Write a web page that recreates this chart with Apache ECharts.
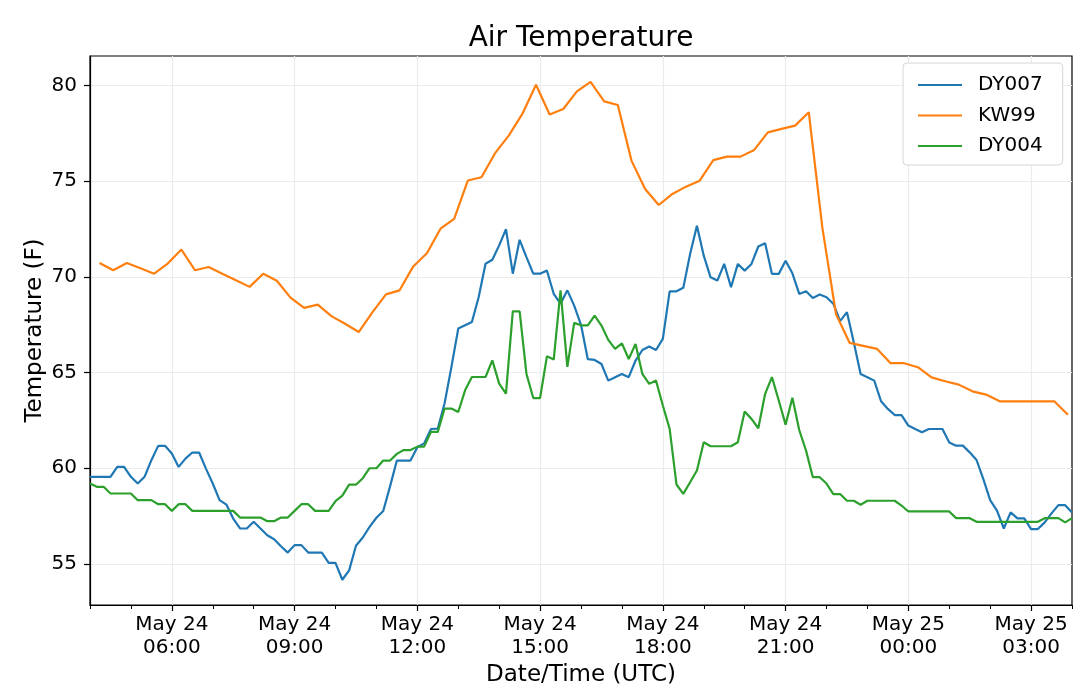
<!DOCTYPE html>
<html>
<head>
<meta charset="utf-8">
<script src="https://cdn.jsdelivr.net/npm/echarts@6/dist/echarts.min.js"></script>
<style>
html,body{margin:0;padding:0;background:#fff;}
#chart{width:1080px;height:698px;}
</style>
</head>
<body>
<div id="chart"></div>
<script>
// ---- Data ----
const seriesNames = ['DY007', 'KW99', 'DY004'];
const seriesColors = ['#1f77b4', '#ff7f0e', '#2ca02c'];

// DY007 and DY004: 10-minute samples from May 24 04:00 to May 25 04:00
const dyStart = [2019, 4, 24, 4, 0];
const dyStepMinutes = 10;
const dy007 = [
  59.55, 59.55, 59.55, 59.55, 60.07, 60.07,
  59.55, 59.2, 59.55, 60.42, 61.17, 61.17,
  60.77, 60.07, 60.5, 60.82, 60.82, 59.98,
  59.2, 58.33, 58.1, 57.37, 56.85, 56.85,
  57.2, 56.85, 56.5, 56.29, 55.92, 55.59,
  55.98, 55.98, 55.59, 55.59, 55.59, 55.05,
  55.05, 54.17, 54.66, 55.95, 56.38, 56.93,
  57.41, 57.76, 59.05, 60.4, 60.4, 60.4,
  61.1, 61.3, 62.05, 62.07, 63.4, 65.3,
  67.3, 67.47, 67.64, 68.95, 70.69, 70.9,
  71.65, 72.5, 70.17, 71.94, 71.04, 70.17,
  70.17, 70.34, 69.12, 68.6, 69.3, 68.5,
  67.5, 65.7, 65.66, 65.45, 64.58, 64.76,
  64.93, 64.76, 65.63, 66.18, 66.36, 66.18,
  66.76, 69.25, 69.25, 69.43, 71.2, 72.68,
  71.11, 69.98, 69.81, 70.68, 69.46, 70.68,
  70.33, 70.68, 71.59, 71.76, 70.16, 70.16,
  70.85, 70.19, 69.11, 69.25, 68.9, 69.08,
  68.94, 68.6, 67.69, 68.16, 66.59, 64.93,
  64.76, 64.58, 63.5, 63.1, 62.78, 62.78,
  62.23, 62.05, 61.88, 62.05, 62.05, 62.05,
  61.35, 61.18, 61.18, 60.83, 60.43, 59.43,
  58.33, 57.78, 56.85, 57.69, 57.38, 57.38,
  56.82, 56.82, 57.17, 57.64, 58.07, 58.07,
  57.69
];
const dy004 = [
  59.2, 59.03, 59.03, 58.68, 58.68, 58.68,
  58.68, 58.33, 58.33, 58.33, 58.12, 58.12,
  57.77, 58.12, 58.12, 57.77, 57.77, 57.77,
  57.77, 57.77, 57.77, 57.77, 57.42, 57.42,
  57.42, 57.42, 57.23, 57.23, 57.42, 57.42,
  57.77, 58.12, 58.12, 57.77, 57.77, 57.77,
  58.28, 58.57, 59.14, 59.14, 59.48, 60.0,
  60.0, 60.4, 60.4, 60.75, 60.95, 60.95,
  61.13, 61.13, 61.9, 61.9, 63.12, 63.12,
  62.94, 64.07, 64.77, 64.77, 64.77, 65.64,
  64.42, 63.9, 68.2, 68.2, 64.94, 63.67,
  63.67, 65.85, 65.68, 69.3, 65.3, 67.6,
  67.47, 67.47, 67.98, 67.46, 66.71, 66.24,
  66.53, 65.71, 66.5, 64.93, 64.41, 64.58,
  63.28, 62.06, 59.15, 58.66, 59.27, 59.88,
  61.36, 61.15, 61.15, 61.15, 61.15, 61.36,
  62.96, 62.58, 62.09, 63.89, 64.76, 63.54,
  62.28, 63.68, 62.0, 60.92, 59.53, 59.53,
  59.2, 58.65, 58.65, 58.3, 58.3, 58.09,
  58.3, 58.3, 58.3, 58.3, 58.3, 58.05,
  57.74, 57.74, 57.74, 57.74, 57.74, 57.74,
  57.74, 57.39, 57.39, 57.39, 57.2, 57.2,
  57.2, 57.2, 57.2, 57.2, 57.2, 57.2,
  57.2, 57.2, 57.39, 57.39, 57.39, 57.17,
  57.39
];

// KW99: 20-minute samples starting May 24 04:14
const kwStart = [2019, 4, 24, 4, 14];
const kwStepMinutes = 20;
const kw99 = [
  70.73, 70.35, 70.73,
  70.45, 70.17, 70.7,
  71.43, 70.35, 70.52,
  70.17, 69.83, 69.48,
  70.17, 69.8, 68.92,
  68.38, 68.55, 67.95,
  67.55, 67.12, 68.15,
  69.09, 69.3, 70.55,
  71.24, 72.52, 73.04,
  75.04, 75.21, 76.47,
  77.39, 78.52, 80.05,
  78.49, 78.78, 79.7,
  80.2, 79.18, 78.99,
  76.08, 74.6, 73.76,
  74.34, 74.72, 75.03,
  76.11, 76.29, 76.29,
  76.64, 77.56, 77.74,
  77.91, 78.61, 72.55,
  68.05, 66.55, 66.4,
  66.24, 65.49, 65.49,
  65.28, 64.75, 64.55,
  64.37, 64.02, 63.85,
  63.5, 63.5, 63.5,
  63.5, 63.5, 62.8
];

// Axis ranges and ticks
const xRangeStart = [2019, 4, 24, 4, 0];
const xRangeEnd = [2019, 4, 25, 4, 0];
const xMajorTickHours = [6, 9, 12, 15, 18, 21, 24, 27]; // hours after May 24 00:00
const xMinorTickHours = [4,5,6,7,8,9,10,11,12,13,14,15,16,17,18,19,20,21,22,23,24,25,26,27,28];
const yTicks = [55, 60, 65, 70, 75, 80];
const yMin = 52.85, yMax = 81.55;

// ---- helpers ----
function ts(p) { return new Date(p[0], p[1], p[2], p[3], p[4]).getTime(); }
function timeAxisOf(start, stepMin, n) {
  const t0 = ts(start); const out = [];
  for (let i = 0; i < n; i++) out.push(t0 + i * stepMin * 60000);
  return out;
}
function pair(times, vals) { return vals.map((v, i) => [times[i], v]); }
const dayZero = ts([2019, 4, 24, 0, 0]);
const hourTs = h => dayZero + h * 3600000;

const dyTimes = timeAxisOf(dyStart, dyStepMinutes, dy007.length);
const kwTimes = timeAxisOf(kwStart, kwStepMinutes, kw99.length);

const months = ['Jan','Feb','Mar','Apr','May','Jun','Jul','Aug','Sep','Oct','Nov','Dec'];
const pad = n => (n < 10 ? '0' : '') + n;
function fmtTime(v) {
  const d = new Date(v);
  return months[d.getMonth()] + ' ' + d.getDate() + '\n' + pad(d.getHours()) + ':' + pad(d.getMinutes());
}

const FONT = 'DejaVu Sans';
const chart = echarts.init(document.getElementById('chart'), null, { renderer: 'canvas' });
const seriesData = [pair(dyTimes, dy007), pair(kwTimes, kw99), pair(dyTimes, dy004)];

chart.setOption({
  animation: false,
  backgroundColor: '#ffffff',
  title: {
    text: 'Air Temperature',
    left: 581, top: 25, textAlign: 'center', padding: 0,
    textStyle: { fontFamily: FONT, fontSize: 28, fontWeight: 'normal', color: '#000' }
  },
  legend: {
    data: seriesNames,
    orient: 'vertical',
    left: 903, top: 63,
    padding: [12, 20, 9, 15],
    itemGap: 10.5,
    itemWidth: 44, itemHeight: 2,
    icon: 'rect',
    backgroundColor: '#ffffff',
    borderColor: '#d6d6d6', borderWidth: 1, borderRadius: 4,
    textStyle: { fontFamily: FONT, fontSize: 20, color: '#000', lineHeight: 20, padding: [0, 0, 0, 11] }
  },
  grid: { left: 90, right: 8, top: 56, bottom: 93, show: true, borderColor: '#000', borderWidth: 1.2, backgroundColor: 'transparent' },
  xAxis: [
    {
      type: 'value',
      min: ts(xRangeStart), max: ts(xRangeEnd),
      position: 'bottom',
      name: 'Date/Time (UTC)', nameLocation: 'middle', nameGap: 59, nameMoveOverlap: false,
      nameTextStyle: { fontFamily: FONT, fontSize: 23, color: '#000' },
      axisLine: { show: true, onZero: false, lineStyle: { color: '#000', width: 1.2 } },
      axisTick: { show: true, length: 6, lineStyle: { color: '#000', width: 1.2 }, customValues: xMajorTickHours.map(hourTs) },
      axisLabel: {
        show: true, customValues: xMajorTickHours.map(hourTs), formatter: fmtTime,
        fontFamily: FONT, fontSize: 20, color: '#000', lineHeight: 23, margin: 8,
        hideOverlap: false
      },
      splitLine: { show: true, lineStyle: { color: '#ebebeb', width: 1.2 } }
    },
    {
      type: 'value',
      min: ts(xRangeStart), max: ts(xRangeEnd),
      position: 'bottom', offset: 0,
      axisLine: { show: false },
      axisTick: { show: true, length: 4, lineStyle: { color: '#000', width: 1 }, customValues: xMinorTickHours.map(hourTs) },
      axisLabel: { show: false },
      splitLine: { show: false }
    }
  ],
  yAxis: {
    type: 'value',
    min: yMin, max: yMax,
    name: 'Temperature (F)', nameLocation: 'middle', nameGap: 43, nameMoveOverlap: false,
    nameTextStyle: { fontFamily: FONT, fontSize: 23, color: '#000' },
    axisLine: { show: true, onZero: false, lineStyle: { color: '#000', width: 1.2 } },
    axisTick: { show: true, length: 6, lineStyle: { color: '#000', width: 1.2 }, customValues: yTicks },
    axisLabel: { customValues: yTicks, fontFamily: FONT, fontSize: 20, color: '#000', margin: 13 },
    splitLine: { show: true, lineStyle: { color: '#ebebeb', width: 1.2 } }
  },
  series: seriesNames.map((name, i) => ({
    name: name,
    type: 'line',
    xAxisIndex: 0,
    data: seriesData[i],
    showSymbol: false,
    symbol: 'none',
    color: seriesColors[i],
    lineStyle: { color: seriesColors[i], width: 2.2 },
    itemStyle: { color: seriesColors[i] },
    emphasis: { disabled: true },
    z: 2 + i
  }))
});
</script>
</body>
</html>
